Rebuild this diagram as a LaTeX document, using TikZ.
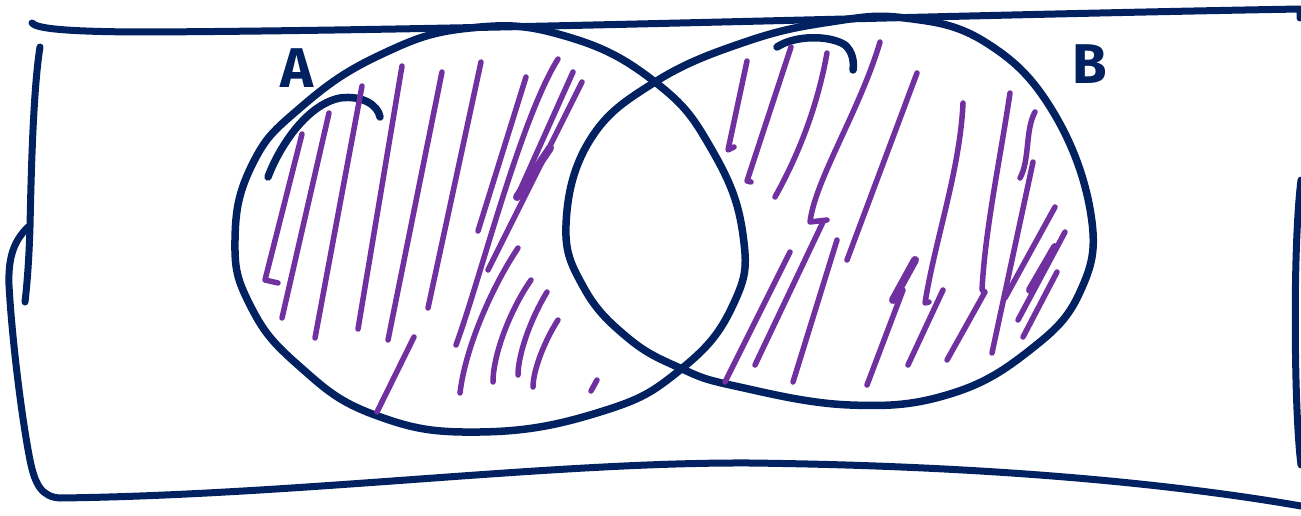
\documentclass[tikz,border=0pt]{standalone}
\usepackage{fontspec}
\newfontfamily\handfont{Fira Sans}
\definecolor{navy}{RGB}{2,33,96}
\definecolor{hatch}{RGB}{112,48,160}
\begin{document}
\begin{tikzpicture}[x=1pt,y=-1pt,
  outline/.style={draw=navy,line width=7.5pt,line cap=round,line join=round},
  frame/.style={draw=navy,line width=7pt,line cap=round,line join=round},
  hatchline/.style={draw=hatch,line width=5.5pt,line cap=round,line join=round},
  thickhatch/.style={draw=hatch,line width=8pt,line cap=round,line join=round},
  lbl/.style={text=navy,font=\handfont\bfseries\fontsize{56}{56}\selectfont,inner sep=0pt}]
\useasboundingbox (0,0) rectangle (1301,516);
% universe frame
\draw[frame] (32,23) .. controls (36,28) and (60,32) .. (150,32) .. controls (500,30) and (900,16) .. (1300,9) -- (1300,18);
\draw[frame] (40,47) .. controls (33,90) and (31,180) .. (30,227) .. controls (29,260) and (27,285) .. (25,302);
\draw[frame] (28,227) .. controls (15,240) and (8,255) .. (9,285) .. controls (12,340) and (22,420) .. (30,460) .. controls (35,485) and (42,497) .. (60,498) .. controls (300,495) and (550,462) .. (750,463) .. controls (1000,466) and (1180,485) .. (1301,506);
\draw[frame] (1301,180) .. controls (1296,220) and (1294,300) .. (1296,380) .. controls (1297,420) and (1299,450) .. (1301,465);
% set A
\draw[outline] plot[smooth cycle,tension=0.75] coordinates {(235,240) (252,165) (300,108) (380,55) (470,28) (565,36) (655,82) (712,150) (743,235) (733,305) (680,370) (600,412) (480,432) (375,415) (298,365) (250,305)};
% set B
\draw[outline] plot[smooth cycle,tension=0.7] coordinates {(566,225) (590,140) (655,82) (745,42) (830,22) (905,18) (985,42) (1052,110) (1091,215) (1080,292) (1030,350) (950,394) (850,405) (735,386) (680,368) (628,338) (584,288)};
% small arcs
\draw[outline] (268,177) .. controls (278,150) and (305,105) .. (340,98) .. controls (362,95) and (378,105) .. (380,117);
\draw[outline] (777,47) .. controls (795,35) and (830,35) .. (845,45) .. controls (853,52) and (854,62) .. (853,70);
% labels
\node[lbl] (labA) at (297,68) {A};
\node[lbl] (labB) at (1090,64) {B};
% hatching in A
\draw[hatchline] (302,134) -- (265,280) -- (278,283);
\draw[hatchline] (329,113) -- (282,318);
\draw[hatchline] (362,86) -- (315,338);
\draw[hatchline] (402,66) -- (358,329);
\draw[hatchline] (442,72) -- (388,340);
\draw[hatchline] (481,62) -- (428,308);
\draw[hatchline] (414,337) -- (377,412);
\draw[hatchline] (526,77) -- (478,231);
\draw[hatchline] (558,59) .. controls (520,120) and (480,280) .. (456,345);
\draw[hatchline] (573,72) -- (517,197);
\draw[hatchline] (582,82) -- (488,270);
\draw[thickhatch] (550,148) -- (517,197);
\draw[hatchline] (518,248) .. controls (490,290) and (465,350) .. (460,393);
\draw[hatchline] (531,280) .. controls (510,310) and (493,355) .. (493,382);
\draw[hatchline] (547,292) .. controls (530,320) and (518,355) .. (518,375);
\draw[hatchline] (558,320) .. controls (545,340) and (533,370) .. (533,387);
\draw[hatchline] (597,380) -- (591,391);
% hatching in B
\draw[hatchline] (747,61) -- (728,150) -- (734,147);
\draw[hatchline] (791,47) -- (747,181) -- (751,182);
\draw[hatchline] (827,53) .. controls (815,120) and (790,170) .. (775,197);
\draw[hatchline] (880,42) .. controls (860,110) and (815,180) .. (810,222) -- (827,220);
\draw[hatchline] (823,222) -- (755,365);
\draw[hatchline] (790,252) -- (725,382);
\draw[hatchline] (837,240) -- (793,382);
\draw[hatchline] (917,73) -- (847,260);
\draw[thickhatch] (915,260) -- (893,300);
\draw[hatchline] (903,290) -- (867,385);
\draw[hatchline] (963,103) .. controls (960,170) and (935,240) .. (925,303) -- (929,302);
\draw[hatchline] (1010,93) .. controls (1000,160) and (985,230) .. (982,290) -- (985,292) -- (947,360);
\draw[hatchline] (943,290) -- (908,365);
\draw[hatchline] (1035,112) .. controls (1025,130) and (1030,160) .. (1020,178);
\draw[hatchline] (1033,162) -- (992,353);
\draw[hatchline] (1055,207) -- (1005,298);
\draw[hatchline] (1065,232) -- (1018,320);
\draw[thickhatch] (1055,247) -- (1030,290);
\draw[hatchline] (1057,272) -- (1023,337);
\end{tikzpicture}
\end{document}
